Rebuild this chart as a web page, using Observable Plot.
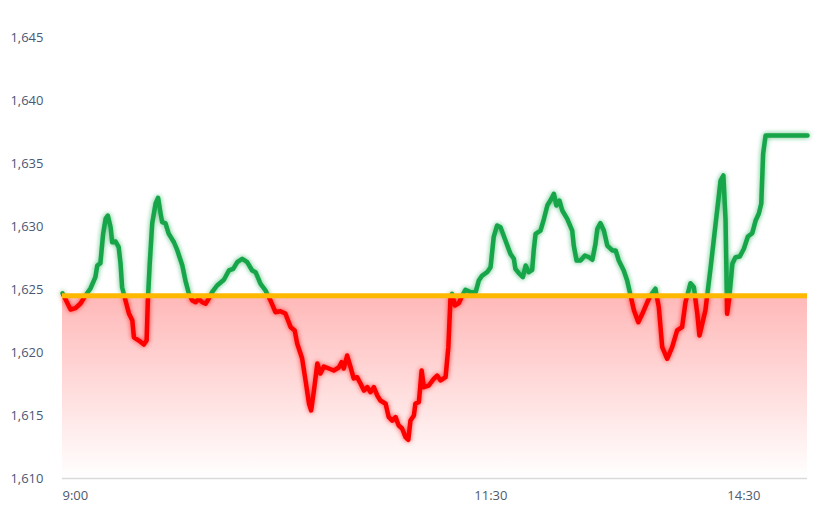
<!DOCTYPE html>
<html><head><meta charset="utf-8">
<script src="https://cdn.jsdelivr.net/npm/d3@7"></script>
<script src="https://cdn.jsdelivr.net/npm/@observablehq/plot@0.6"></script>
<style>html,body{margin:0;padding:0;background:#fff;}</style>
</head><body><div id="chart"></div>
<script>
// trading-minute index (0 = 9:00 open, 240 = close)
const minutes = [0,2.6,4.2,5.8,7.4,9.0,10.6,11.2,12.2,13.1,13.9,14.6,15.5,16.0,17.1,18.1,18.7,19.2,20.3,21.4,22.5,23.0,24.6,26.2,27.1,27.5,28.1,28.9,30.0,30.8,31.6,32.1,33.2,34.2,35.9,37.0,38.6,39.6,40.7,41.8,42.9,43.9,45.0,46.1,47.1,48.2,49.8,52.0,53.6,55.0,56.3,57.9,59.5,61.1,62.2,63.8,65.4,67.0,68.6,70.2,71.8,73.5,74.8,75.6,77.2,78.3,79.4,80.1,81.0,82.1,83.1,84.2,85.8,87.4,89.0,89.9,90.6,91.7,92.8,93.8,94.9,96.0,97.1,98.2,99.2,100.3,101.4,102.4,104.1,105.1,106.2,107.3,108.3,109.4,110.5,111.4,112.1,113.2,113.7,114.8,115.7,116.4,118.0,119.6,120.7,121.8,123.4,124.3,125.0,125.5,126.4,127.7,128.8,129.8,131.4,133.1,134.1,135.2,136.8,137.9,138.9,140.0,141.1,142.7,144.3,145.4,145.9,147.0,148.3,149.2,150.2,151.3,151.8,152.4,154.0,155.1,156.2,157.5,158.3,159.1,160.1,161.0,162.6,164.2,164.7,165.6,166.9,168.3,169.6,170.7,171.7,172.3,173.3,174.4,175.5,177.1,178.2,179.2,180.8,181.9,183.0,184.1,185.5,186.8,188.4,189.4,191.0,192.1,193.2,194.8,196.4,198.0,199.6,200.7,202.3,203.4,204.5,205.2,206.1,207.1,208.8,210.4,212.0,212.9,213.6,214.1,214.7,215.8,216.8,218.2,219.5,220.8,222.2,223.3,224.3,225.1,225.7,226.5,240];
const prices = [1624.7,1623.41,1623.52,1623.89,1624.52,1625.08,1625.98,1626.90,1627.09,1629.44,1630.63,1630.87,1629.94,1628.75,1628.81,1628.36,1627.06,1625.18,1624.13,1623.10,1622.54,1621.21,1620.95,1620.63,1620.95,1624.13,1627.06,1630.24,1631.83,1632.28,1631.03,1630.34,1630.24,1629.44,1628.75,1628.10,1626.90,1625.71,1624.68,1624.13,1623.99,1624.26,1623.99,1623.87,1624.26,1624.79,1625.32,1625.77,1626.51,1626.64,1627.17,1627.44,1627.17,1626.51,1626.37,1625.45,1624.92,1624.13,1623.20,1623.28,1623.10,1622.01,1621.75,1620.71,1619.52,1617.78,1615.95,1615.40,1616.98,1619.13,1618.33,1618.89,1618.73,1618.57,1618.81,1619.23,1618.73,1619.76,1618.83,1617.94,1618.04,1617.54,1616.98,1617.25,1616.85,1617.25,1616.59,1616.19,1615.93,1614.87,1614.60,1614.87,1614.21,1613.97,1613.28,1613.07,1614.60,1615.00,1615.95,1616.06,1618.57,1617.25,1617.38,1617.91,1618.17,1617.78,1618.04,1620.42,1624.39,1624.66,1623.73,1623.93,1624.52,1624.98,1624.79,1624.79,1625.71,1626.11,1626.37,1626.77,1629.15,1630.08,1629.94,1628.89,1627.83,1627.44,1626.64,1626.29,1625.98,1626.90,1626.37,1626.56,1628.10,1629.42,1629.68,1630.61,1631.67,1632.20,1632.60,1631.67,1632.06,1631.27,1630.61,1629.68,1628.49,1627.30,1627.30,1627.70,1627.56,1627.36,1628.63,1629.82,1630.26,1629.68,1628.49,1628.10,1628.10,1627.30,1626.51,1625.71,1624.52,1623.33,1622.40,1623.07,1623.99,1624.52,1625.06,1623.60,1620.42,1619.50,1620.42,1621.75,1622.01,1623.99,1625.50,1625.18,1623.07,1621.35,1622.28,1623.33,1626.77,1630.21,1633.65,1634.05,1630.48,1623.07,1624.13,1627.04,1627.56,1627.62,1628.23,1629.21,1629.47,1630.48,1631.01,1631.80,1635.77,1637.22,1637.22];
const baseline = 1624.5; // previous settlement
const yTicks = [1610, 1615, 1620, 1625, 1630, 1635, 1640, 1645];
const xTickMinutes = [0, 138, 219.5];
const xTickLabels = ["9:00", "11:30", "14:30"];
const upColor = "#13a64a";
const downColor = "#ff0000";

const data = minutes.map((m, i) => ({m, p: prices[i]}));
const areaBox = [{x1: 0, x2: 240, y1: yTicks[0], y2: baseline}];
const labelOf = v => xTickLabels[xTickMinutes.indexOf(v)];

const chart = Plot.plot({
  width: 834, height: 511,
  marginLeft: 62, marginRight: 27, marginTop: 37, marginBottom: 33,
  style: {fontFamily: "'Open Sans', sans-serif", fontSize: "13px", color: "#4a5875", background: "#fff"},
  x: {domain: [0, 240], axis: null},
  y: {domain: [1610, 1645], axis: null},
  marks: [
    Plot.rect(areaBox, {x1: "x1", x2: "x2", y1: "y1", y2: "y2", fill: "url(#areaGrad)"}),
    Plot.ruleY([yTicks[0]], {stroke: "#d9d9d9", strokeWidth: 1.5}),
    Plot.line(data, {x: "m", y: "p", stroke: upColor, strokeWidth: 4.5}),
    Plot.ruleY([baseline], {stroke: "#ffb800", strokeWidth: 5}),
    Plot.axisY({ticks: yTicks, tickSize: 0, tickPadding: 19, tickFormat: d => d.toLocaleString("en-US"), fill: "#4a5875"}),
    Plot.axisX({ticks: xTickMinutes.slice(0, 1), tickSize: 0, tickPadding: 12, textAnchor: "start", tickFormat: labelOf, fill: "#4f5a6b"}),
    Plot.axisX({ticks: xTickMinutes.slice(1), tickSize: 0, tickPadding: 12, tickFormat: labelOf, fill: "#4f5a6b"})
  ]
});
document.getElementById("chart").appendChild(chart);

const svg = d3.select(chart);
const by = chart.scale("y").apply(baseline);
const H = 511;
const defs = svg.insert("defs", ":first-child");
const lg = defs.append("linearGradient").attr("id", "lineGrad").attr("gradientUnits", "userSpaceOnUse")
  .attr("x1", 0).attr("x2", 0).attr("y1", 0).attr("y2", H);
lg.append("stop").attr("offset", (by - 0.5) / H).attr("stop-color", upColor);
lg.append("stop").attr("offset", (by - 0.5) / H).attr("stop-color", downColor);
const ag = defs.append("linearGradient").attr("id", "areaGrad").attr("x1", 0).attr("x2", 0).attr("y1", 0).attr("y2", 1);
ag.append("stop").attr("offset", 0).attr("stop-color", "#ffb8b8");
ag.append("stop").attr("offset", 1).attr("stop-color", "#ffffff");
const f = defs.append("filter").attr("id", "glow").attr("x", "-5%").attr("y", "-10%").attr("width", "110%").attr("height", "120%");
f.append("feGaussianBlur").attr("in", "SourceGraphic").attr("stdDeviation", 2.5).attr("result", "blur");
f.append("feComponentTransfer").attr("in", "blur").attr("result", "soft")
  .append("feFuncA").attr("type", "linear").attr("slope", 0.7);
const fm = f.append("feMerge");
fm.append("feMergeNode").attr("in", "soft");
fm.append("feMergeNode").attr("in", "SourceGraphic");
const lineG = svg.select('g[aria-label="line"]');
lineG.attr("stroke", "url(#lineGrad)");
lineG.selectAll("path").attr("filter", "url(#glow)");
</script>
</body></html>
